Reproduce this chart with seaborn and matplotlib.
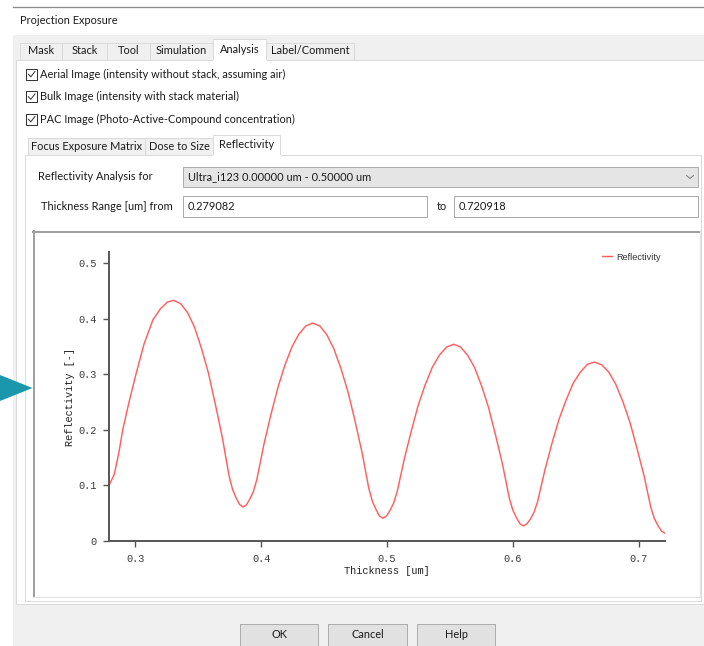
import matplotlib
matplotlib.use("Agg")
import matplotlib.pyplot as plt
from matplotlib.patches import Rectangle, Polygon
from matplotlib.lines import Line2D
import seaborn as sns
import pandas as pd

# ---- reflectivity curve (thickness in um, reflectivity unitless) ----
thickness_um = [
    0.2791, 0.2833, 0.2870, 0.2900, 0.2950, 0.3005, 0.3070, 0.3140, 0.3200, 0.3255, 0.3305,
    0.3360, 0.3415, 0.3470, 0.3525, 0.3580, 0.3635, 0.3690, 0.3745, 0.37725, 0.3800, 0.38275, 0.3855,
    0.3883, 0.3911, 0.39383, 0.3966, 0.4022, 0.4077, 0.4133, 0.4188, 0.4244, 0.4299, 0.4355, 0.4410,
    0.4466, 0.4522, 0.4577, 0.4633, 0.4689, 0.4745, 0.4801, 0.4856, 0.48843, 0.4912, 0.49401, 0.4968,
    0.49961, 0.5024, 0.50523, 0.5080, 0.5137, 0.5193, 0.5249, 0.5305, 0.5361, 0.5418, 0.5474, 0.5530,
    0.5585, 0.5641, 0.5696, 0.5752, 0.5807, 0.5862, 0.5918, 0.5973, 0.60009, 0.6029, 0.60563, 0.6084,
    0.61123, 0.6141, 0.61689, 0.6197, 0.6254, 0.6310, 0.6367, 0.6424, 0.6480, 0.6537, 0.6593, 0.6650,
    0.6706, 0.6762, 0.6818, 0.6874, 0.6930, 0.6985, 0.7041, 0.7097, 0.71252, 0.7153, 0.71811, 0.7209,
]
reflectivity = [
    0.100, 0.120, 0.160, 0.200, 0.250, 0.300, 0.355, 0.398, 0.418, 0.430, 0.433,
    0.427, 0.411, 0.385, 0.347, 0.303, 0.247, 0.188, 0.117, 0.093, 0.078, 0.066, 0.061,
    0.065, 0.076, 0.089, 0.111, 0.174, 0.227, 0.276, 0.316, 0.349, 0.372, 0.387, 0.392,
    0.387, 0.371, 0.346, 0.311, 0.269, 0.217, 0.160, 0.094, 0.071, 0.057, 0.045, 0.041,
    0.045, 0.055, 0.068, 0.088, 0.147, 0.198, 0.245, 0.282, 0.313, 0.335, 0.349, 0.354,
    0.349, 0.334, 0.312, 0.279, 0.240, 0.191, 0.138, 0.076, 0.055, 0.042, 0.031, 0.027,
    0.031, 0.040, 0.052, 0.071, 0.127, 0.175, 0.219, 0.254, 0.284, 0.304, 0.318, 0.322,
    0.317, 0.304, 0.282, 0.251, 0.214, 0.168, 0.119, 0.060, 0.040, 0.028, 0.018, 0.014,
]
thickness_from = 0.279082
thickness_to = 0.720918
x_ticks = [0.3, 0.4, 0.5, 0.6, 0.7]
y_ticks = [0, 0.1, 0.2, 0.3, 0.4, 0.5]
y_tick_labels = ["0", "0.1", "0.2", "0.3", "0.4", "0.5"]

# ---- dialog texts ----
dialog_title = "Projection Exposure"
main_tabs = ["Mask", "Stack", "Tool", "Simulation", "Analysis", "Label/Comment"]
checkbox_labels = [
    "Aerial Image (intensity without stack, assuming air)",
    "Bulk Image (intensity with stack material)",
    "PAC Image (Photo-Active-Compound concentration)",
]
sub_tabs = ["Focus Exposure Matrix", "Dose to Size", "Reflectivity"]
combo_label = "Reflectivity Analysis for"
combo_value = "Ultra_i123 0.00000 um - 0.50000 um"
range_label = "Thickness Range [um] from"
buttons = ["OK", "Cancel", "Help"]

W, H = 704, 646
PX = 0.72  # one pixel in points at dpi 100
UI_FONT = "Lato"
UI_SIZE = 7.9
MONO = "Liberation Mono"

fig = plt.figure(figsize=(W / 100, H / 100), dpi=100)
fig.patch.set_facecolor("white")

ui = fig.add_axes([0, 0, 1, 1])
ui.set_xlim(0, W)
ui.set_ylim(H, 0)
ui.axis("off")


def box(x0, y0, x1, y1, fc="white", ec="none", lw=1.0, z=1):
    ui.add_patch(Rectangle((x0, y0), x1 - x0, y1 - y0, facecolor=fc,
                           edgecolor=ec, linewidth=lw * PX, zorder=z))


def hline(x0, x1, y, color, lw=1.0, z=2):
    ui.add_line(Line2D([x0, x1], [y, y], color=color, linewidth=lw * PX, zorder=z))


def vline(x, y0, y1, color, lw=1.0, z=2):
    ui.add_line(Line2D([x, x], [y0, y1], color=color, linewidth=lw * PX, zorder=z))


def label(x, y, s, size=UI_SIZE, ha="left", color="#1a1a1a", family=UI_FONT, z=5):
    ui.text(x, y, s, fontsize=size, ha=ha, va="center", color=color,
            family=family, zorder=z)


# window frame line and title
hline(13, W, 6.5, "#8c8c8c", 1.3)
label(20, 21, dialog_title)

# dialog body background
box(13, 35, W, H, fc="#f0f0f0", z=0)
# main tab page
box(16, 60, W + 2, 604, fc="white", ec="#dadada", z=1)

# main tab strip
tab_edges = [20, 62, 107, 150, 213, 266, 354]
for i, name in enumerate(main_tabs):
    x0, x1 = tab_edges[i], tab_edges[i + 1]
    if name == "Analysis":
        box(x0, 39, x1, 61, fc="white", ec="#dadada", z=3)
        hline(x0 + 0.5, x1 - 0.5, 60.5, "white", 2, z=4)
        label((x0 + x1) / 2, 49.5, name, ha="center")
    else:
        box(x0, 43, x1, 60, fc="#f0f0f0", ec="#dadada", z=2)
        label((x0 + x1) / 2, 51, name, ha="center")

# check boxes
for i, text in enumerate(checkbox_labels):
    cy = 74 + i * 22.5
    box(26, cy - 5.5, 37, cy + 5.5, fc="white", ec="#333333", lw=1.0, z=3)
    ui.add_line(Line2D([28.3, 30.8, 35.0], [cy + 0.2, cy + 2.8, cy - 2.6],
                       color="#333333", linewidth=1.0 * PX, zorder=4))
    label(40, cy, text)

# inner tab page
box(25, 155, 701, 601, fc="white", ec="#dadada", z=1)
sub_edges = [28, 145, 213, 280]
for i, name in enumerate(sub_tabs):
    x0, x1 = sub_edges[i], sub_edges[i + 1]
    if name == "Reflectivity":
        box(x0, 135, x1, 156, fc="white", ec="#dadada", z=3)
        hline(x0 + 0.5, x1 - 0.5, 155.5, "white", 2, z=4)
        label((x0 + x1) / 2, 145, name, ha="center")
    else:
        box(x0, 138, x1, 155, fc="#f0f0f0", ec="#dadada", z=2)
        label((x0 + x1) / 2, 147, name, ha="center")

# combo box row
label(38, 177, combo_label)
box(183, 167, 698, 187, fc="#e5e5e5", ec="#adadad", z=3)
label(188, 177, combo_value)
ui.add_line(Line2D([686.5, 690, 693.5], [175.5, 178.5, 175.5], color="#7a7a7a",
                   linewidth=1.0 * PX, zorder=4))

# thickness range row
label(41, 206, range_label)
box(183, 196, 427, 217, fc="white", ec="#a9a9a9", z=3)
label(188, 206, f"{thickness_from:.6f}")
label(437, 206, "to")
box(454, 196, 698, 217, fc="white", ec="#a9a9a9", z=3)
label(459, 206, f"{thickness_to:.6f}")

# chart frame (sunken border)
box(33, 231, 700, 597, fc="white", z=2)
hline(33, 700, 232, "#a0a0a0", 2.0, z=3)
vline(34, 231, 597, "#a0a0a0", 2.0, z=3)
hline(33, 700, 596.5, "#e3e3e3", 1.2, z=3)
vline(699.5, 231, 597, "#e3e3e3", 1.2, z=3)

# pointer arrow on the left edge
ui.add_patch(Polygon([(0, 375), (32.5, 388), (0, 401)], closed=True,
                     facecolor="#1b97ab", edgecolor="none", zorder=6))

# bottom buttons
for name, (x0, x1) in zip(buttons, [(240, 318), (328, 407), (417, 495)]):
    box(x0, 624, x1, H + 3, fc="#e1e1e1", ec="#adadad", z=3)
    label((x0 + x1) / 2, 635, name, ha="center")

# ---- the reflectivity chart ----
ax_l, ax_r, ax_b, ax_t = 109, 665, 541, 252
ax = fig.add_axes([ax_l / W, (H - ax_b) / H, (ax_r - ax_l) / W, (ax_b - ax_t) / H])
ax.patch.set_alpha(0)
ax.set_zorder(10)

df = pd.DataFrame({"Thickness [um]": thickness_um, "Reflectivity [-]": reflectivity})
sns.lineplot(data=df, x="Thickness [um]", y="Reflectivity [-]", ax=ax, sort=True,
             color="#ff5f5f", linewidth=1.05, label="Reflectivity", legend=False)

ax.set_xlim(thickness_from, thickness_to)
ax.set_ylim(0, 0.52)
ax.set_xticks(x_ticks)
ax.set_xticklabels([f"{t:.1f}" for t in x_ticks])
ax.set_yticks(y_ticks)
ax.set_yticklabels(y_tick_labels)
for side in ("top", "right"):
    ax.spines[side].set_visible(False)
for side in ("left", "bottom"):
    ax.spines[side].set_color("#555555")
    ax.spines[side].set_linewidth(1.4)
ax.tick_params(direction="out", length=4, width=1.0, color="#555555",
               labelcolor="#3a3a3a", labelsize=7.4, pad=5)
for t in ax.get_xticklabels() + ax.get_yticklabels():
    t.set_family(MONO)
ax.set_xlabel("Thickness [um]", family=MONO, fontsize=7.4, color="#222222", labelpad=2)
ax.set_ylabel("Reflectivity [-]", family=MONO, fontsize=7.4, color="#222222", labelpad=2)
ax.grid(False)

leg = ax.legend(loc="upper right", bbox_to_anchor=(665 / W, (H - 249) / H),
                bbox_transform=fig.transFigure, frameon=False, handlelength=1.1,
                handletextpad=0.5, borderaxespad=0,
                prop={"family": "Liberation Sans", "size": 6.6})
for t in leg.get_texts():
    t.set_color("#333333")

fig.savefig("out.png", dpi=100)
